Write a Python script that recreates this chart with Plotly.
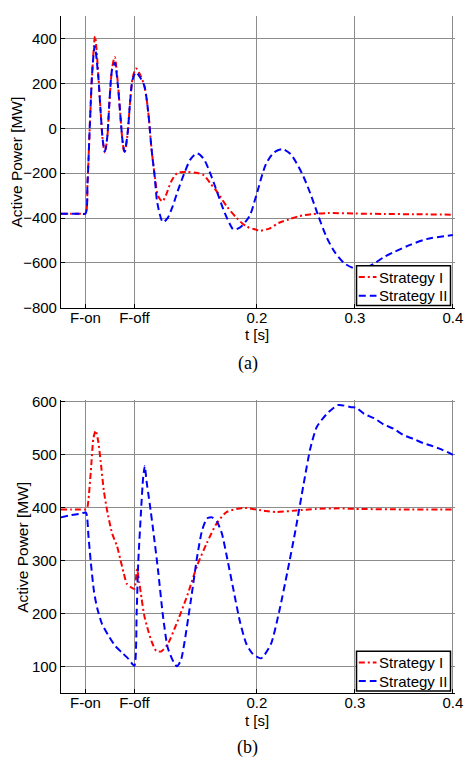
import plotly.graph_objects as go

# ---------------- data ----------------
# Panel (a)
t_a1 = [0.0, 0.010, 0.020, 0.025, 0.0271, 0.0295, 0.0321, 0.0348, 0.0381, 0.0405, 0.0428, 0.0448,
        0.0472, 0.0495, 0.0522, 0.0549, 0.0579, 0.0606, 0.0629, 0.0649, 0.0679, 0.0706, 0.0732,
        0.0766, 0.0816, 0.085, 0.0874, 0.0897, 0.0923, 0.0957, 0.0990, 0.1035, 0.1073, 0.1123,
        0.119, 0.129, 0.1391, 0.1458, 0.1525, 0.1592, 0.1692, 0.1792, 0.1893, 0.1993, 0.2026,
        0.2126, 0.2227, 0.2327, 0.2427, 0.2562, 0.2728, 0.2996, 0.33, 0.36, 0.40]
p_a1 = [-381, -381, -381, -380, -246, 16, 264, 410, 240, 75, -60, -108,
        -45, 118, 268, 318, 210, 62, -60, -110, -30, 120, 225,
        267, 232, 191, 133, 46, -85, -210, -300, -326, -297, -239,
        -199, -195, -199, -209, -246, -282, -348, -399, -438, -452, -457,
        -447, -421, -406, -392, -383, -378, -380, -382, -383, -385]

t_a2 = [0.0, 0.010, 0.020, 0.025, 0.0271, 0.0295, 0.0321, 0.0345, 0.0381, 0.0405, 0.0428, 0.0448,
        0.0472, 0.0495, 0.0522, 0.0549, 0.0579, 0.0606, 0.0629, 0.0649, 0.0679, 0.0706, 0.0732,
        0.0766, 0.0816, 0.085, 0.0874, 0.0897, 0.0923, 0.0957, 0.0984, 0.1041, 0.109, 0.114,
        0.119, 0.1258, 0.1324, 0.1391, 0.1458, 0.1525, 0.1592, 0.1659, 0.1725, 0.1759, 0.1825,
        0.1926, 0.1993, 0.2094, 0.2177, 0.2261, 0.2344, 0.2461, 0.2545, 0.2628, 0.2712, 0.2795,
        0.2896, 0.2996, 0.306, 0.3197, 0.3297, 0.3397, 0.3564, 0.3731, 0.40]
p_a2 = [-381, -381, -381, -380, -246, 16, 264, 366, 230, 75, -57, -103,
        -42, 118, 262, 293, 200, 60, -57, -105, -27, 118, 218,
        250, 221, 191, 133, 46, -85, -217, -333, -418, -399, -348,
        -282, -202, -137, -112, -137, -202, -282, -363, -428, -450, -443,
        -390, -300, -158, -107, -93, -115, -202, -290, -392, -486, -552,
        -603, -625, -630, -603, -574, -552, -520, -494, -476]

# Panel (b)
t_b1 = [0.0, 0.010, 0.020, 0.0255, 0.0271, 0.0305, 0.0331, 0.0355, 0.0381, 0.0405, 0.0438, 0.0471,
        0.0522, 0.0572, 0.0606, 0.0639, 0.0672, 0.0716, 0.0749, 0.0776, 0.0799, 0.0823, 0.0849,
        0.0873, 0.0923, 0.0973, 0.1023, 0.109, 0.119, 0.129, 0.139, 0.149, 0.159, 0.169,
        0.186, 0.209, 0.22, 0.24, 0.26, 0.283, 0.30, 0.35, 0.40]
p_b1 = [397, 397, 397, 397, 402, 469, 531, 546, 525, 488, 432, 395,
        352, 328, 303, 278, 257, 250, 247, 284, 260, 229, 198,
        180, 149, 130, 129, 143, 186, 235, 291, 334, 371, 392,
        400, 394, 392, 395, 398, 399, 398, 397, 397]

t_b2 = [0.0, 0.010, 0.020, 0.0255, 0.0281, 0.0305, 0.0338, 0.0371, 0.0421, 0.0488, 0.0556, 0.0622,
        0.0689, 0.0749, 0.0773, 0.0789, 0.0816, 0.0839, 0.0856, 0.0873, 0.0906, 0.0940, 0.0990,
        0.104, 0.109, 0.115, 0.1184, 0.1224, 0.1324, 0.1391, 0.1441, 0.1491, 0.1542, 0.1592,
        0.1642, 0.1692, 0.1759, 0.1826, 0.1893, 0.196, 0.2043, 0.2143, 0.2227, 0.231, 0.2394,
        0.2477, 0.2545, 0.2612, 0.2712, 0.2829, 0.2963, 0.3013, 0.3096, 0.3197, 0.3297, 0.3397,
        0.3497, 0.3598, 0.3698, 0.3798, 0.3899, 0.40]
p_b2 = [382, 386, 389, 391, 346, 297, 241, 210, 180, 158, 139, 127,
        115, 102, 204, 297, 389, 457, 479, 451, 408, 360, 284,
        198, 136, 109, 101, 112, 223, 309, 358, 380, 382, 374,
        352, 309, 247, 186, 143, 124, 116, 143, 204, 278, 358,
        445, 512, 553, 577, 594, 590, 589, 577, 569, 557, 549,
        537, 530, 522, 516, 509, 500]

series_names = ["Strategy I", "Strategy II"]
x_tickvals = [0.025, 0.075, 0.2, 0.3, 0.4]
x_ticktext = ["F-on", "F-off", "0.2", "0.3", "0.4"]
y_ticks_a = [-800, -600, -400, -200, 0, 200, 400]
y_ticks_b = [100, 200, 300, 400, 500, 600]

# ---------------- figure ----------------
W, H = 470, 768
def fx(px):
    return px / W
def fy(py):
    return 1 - py / H

SANS = "Liberation Sans, Arial, sans-serif"
SERIF = "Liberation Serif, Times New Roman, serif"
RED = "#FF0000"
BLUE = "#0000FF"
colors = [RED, BLUE]
dashes = ["6px,3px,2px,3px", "7px,4px"]

fig = go.Figure()
panels = [((t_a1, p_a1), (t_a2, p_a2), "x", "y", 0.8),
          ((t_b1, p_b1), (t_b2, p_b2), "x2", "y2", 0.6)]
for s1, s2, xa, ya, sm in panels:
    for k, (tt, pp) in enumerate([s1, s2]):
        fig.add_trace(go.Scatter(x=tt, y=pp, mode="lines", name=series_names[k],
                                 line=dict(color=colors[k], width=2, dash=dashes[k],
                                           shape="spline", smoothing=sm),
                                 xaxis=xa, yaxis=ya, showlegend=False))

# plot-area geometry (pixels): x=0 at 62, x=0.4 at 460.7; axis range is padded by ~2px
# so that the last grid lines (t=0.4, P=600) are not clipped at the plot edge
X_LEFT, X_04 = 62.0, 460.7
X_MAX = 0.402
x_right = X_LEFT + (X_04 - X_LEFT) * X_MAX / 0.4

common_x = dict(range=[0, X_MAX], tickmode="array", tickvals=x_tickvals, ticktext=x_ticktext,
                showgrid=True, gridcolor="#8c8c8c", gridwidth=1, zeroline=False,
                showline=True, linecolor="black", linewidth=1,
                ticks="inside", ticklen=4, tickcolor="black",
                ticklabeloverflow="allow", ticklabelstandoff=-4,
                tickfont=dict(family=SANS, size=15, color="black"))
common_y = dict(showgrid=True, gridcolor="#8c8c8c", gridwidth=1, zeroline=False,
                showline=True, linecolor="black", linewidth=1,
                ticks="inside", ticklen=4, tickcolor="black", tickmode="array",
                ticklabeloverflow="allow",
                tickfont=dict(family=SANS, size=15, color="black"))

# panel (b): 600 at y=402.7 px, 100 at 673 px -> extend top by 3 units (~1.6 px)
B_TOP = 603
b_top_px = 402.7 - (B_TOP - 600) * (673 - 402.7) / 500

xd = [fx(X_LEFT), fx(x_right)]
fig.update_layout(
    width=W, height=H,
    margin=dict(l=0, r=0, t=0, b=0),
    paper_bgcolor="white", plot_bgcolor="white",
    xaxis=dict(domain=xd, anchor="y", **common_x),
    yaxis=dict(domain=[fy(306.7), fy(9.4)], anchor="x", range=[-800, 500],
               tickvals=y_ticks_a, **common_y),
    xaxis2=dict(domain=xd, anchor="y2", **common_x),
    yaxis2=dict(domain=[fy(700), fy(b_top_px)], anchor="x2", range=[50, B_TOP],
                tickvals=y_ticks_b, **common_y),
    showlegend=False,
)

ann = []
shapes = []
for (xc, yc) in [(17, 158), (23, 551)]:
    ann.append(dict(text="Active Power [MW]", x=fx(xc), y=fy(yc), xref="paper", yref="paper",
                    textangle=-90, showarrow=False, xanchor="center", yanchor="middle",
                    font=dict(family=SANS, size=15.5, color="black")))
for yc in [334, 728]:
    ann.append(dict(text="t [s]", x=fx(261), y=fy(yc), xref="paper", yref="paper",
                    showarrow=False, xanchor="center", yanchor="middle",
                    font=dict(family=SANS, size=15, color="black")))
for lab, yc in [("(a)", 364), ("(b)", 755)]:
    ann.append(dict(text=lab, x=fx(252), y=fy(yc), xref="paper", yref="paper",
                    showarrow=False, xanchor="center", yanchor="middle",
                    font=dict(family=SERIF, size=18, color="black")))

# legends (one per panel): box, line samples, labels
for top in [264, 657]:
    shapes.append(dict(type="rect", xref="paper", yref="paper",
                       x0=fx(362.7), x1=fx(458.3), y0=fy(top + 40.5), y1=fy(top),
                       line=dict(color="black", width=1.5), fillcolor="white", layer="above"))
    for k in range(2):
        yc = top + 11.5 + 19 * k
        shapes.append(dict(type="line", xref="paper", yref="paper",
                           x0=fx(365), x1=fx(383), y0=fy(yc), y1=fy(yc),
                           line=dict(color=colors[k], width=2, dash=dashes[k]), layer="above"))
        ann.append(dict(text=series_names[k], x=fx(383.5), y=fy(yc), xref="paper", yref="paper",
                        showarrow=False, xanchor="left", yanchor="middle",
                        font=dict(family=SANS, size=15, color="black")))

fig.update_layout(annotations=ann, shapes=shapes)

fig.write_html("out.html", config={"responsive": False, "displayModeBar": False},
               post_script="document.body.style.margin='0';document.body.style.overflow='hidden';")
